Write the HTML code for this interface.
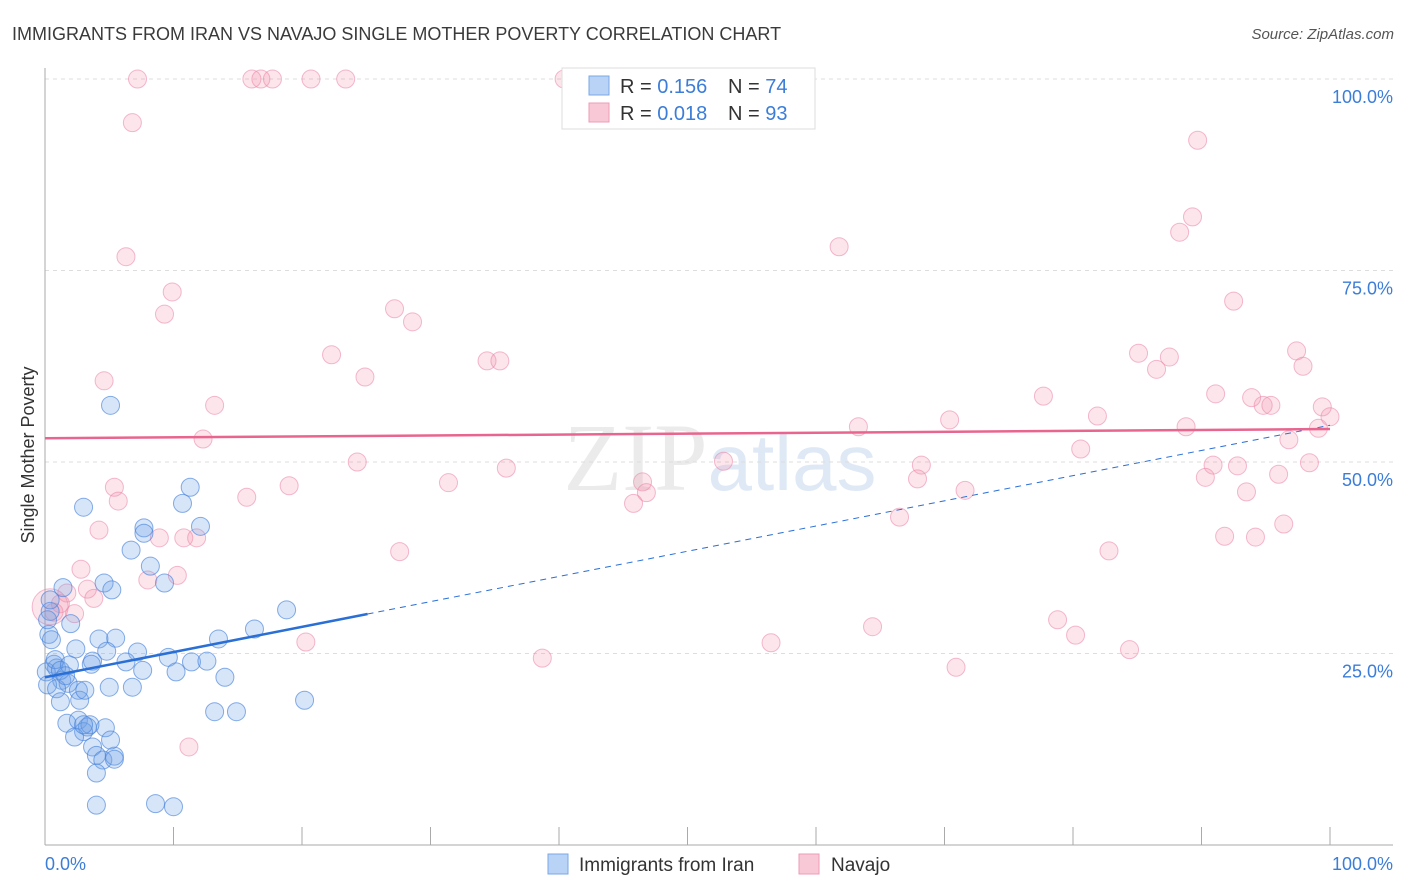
<!DOCTYPE html>
<html><head><meta charset="utf-8"><style>
body{margin:0;background:#fff;font-family:"Liberation Sans",sans-serif;}
#wrap{position:relative;width:1406px;height:892px;overflow:hidden;}
svg text{font-family:"Liberation Sans",sans-serif;}
</style></head><body><div id="wrap">
<svg id="svg" width="1406" height="892">
<text x="12" y="40" font-size="18" fill="#3a3a3a">IMMIGRANTS FROM IRAN VS NAVAJO SINGLE MOTHER POVERTY CORRELATION CHART</text>
<text x="1394" y="39" font-size="15" fill="#555" font-style="italic" text-anchor="end">Source: ZipAtlas.com</text>
<text x="720" y="490" font-size="96" fill="#ebebeb" text-anchor="middle" font-family="Liberation Serif"><tspan font-family="Liberation Serif">ZIP</tspan><tspan fill="#dfe9f6" font-family="Liberation Sans" font-size="80">atlas</tspan></text>
<g id="grid"></g>
<line x1="45" y1="68" x2="45" y2="845" stroke="#aaa"/>
<line x1="45" y1="845" x2="1393" y2="845" stroke="#aaa"/>
<text transform="translate(34,455) rotate(-90)" font-size="18" fill="#333" text-anchor="middle">Single Mother Poverty</text>
<text x="45" y="870" font-size="18" fill="#3b7dd8">0.0%</text>
<text x="1393" y="870" font-size="18" fill="#3b7dd8" text-anchor="end">100.0%</text>
<g id="pts"></g>
<g id="lines"></g>
<g>
<rect x="562" y="68" width="253" height="61" fill="#fff" stroke="#ddd"/>
<rect x="589" y="76" width="20" height="19" fill="#b8d3f5" stroke="#7aa7e6"/>
<rect x="589" y="103" width="20" height="19" fill="#f8c8d6" stroke="#ee9bb4"/>
<text x="620" y="93" font-size="20" fill="#333">R = <tspan fill="#3b7dd8">0.156</tspan></text>
<text x="728" y="93" font-size="20" fill="#333">N = <tspan fill="#3b7dd8">74</tspan></text>
<text x="620" y="120" font-size="20" fill="#333">R = <tspan fill="#3b7dd8">0.018</tspan></text>
<text x="728" y="120" font-size="20" fill="#333">N = <tspan fill="#3b7dd8">93</tspan></text>
</g>
<g>
<rect x="548" y="854" width="20" height="20" fill="#b8d3f5" stroke="#7aa7e6"/>
<text x="579" y="871" font-size="19" fill="#333">Immigrants from Iran</text>
<rect x="799" y="854" width="20" height="20" fill="#f8c8d6" stroke="#ee9bb4"/>
<text x="831" y="871" font-size="19" fill="#333">Navajo</text>
</g>
</svg></div>
<script>
const yTicks=[25,50,75,100];
const yTickLabels=["25.0%","50.0%","75.0%","100.0%"];
const xTicks=[0,10,20,30,40,50,60,70,80,90,100];
const iranX=[5.1,3.0,11.3,10.7,7.7,7.7,12.1,6.7,8.2,9.3,4.6,5.2,1.4,0.4,2.0,0.3,18.8,16.3,13.5,4.2,5.5,7.2,4.8,2.4,9.6,6.3,3.7,3.6,0.7,0.9,0.1,11.4,12.6,10.2,7.6,14.0,1.3,1.8,0.2,0.9,2.6,5.0,6.8,1.2,2.7,20.2,13.2,14.9,1.7,2.6,3.3,4.7,3.0,2.3,3.7,4.0,4.5,5.4,5.4,4.0,4.0,8.6,10.0,0.4,0.5,0.8,1.2,1.9,3.1,3.5,3.0,0.2,1.6,5.1];
const iranY=[57.4,44.1,46.7,44.6,41.4,40.7,41.6,38.5,36.4,34.2,34.2,33.3,33.6,30.5,28.9,27.5,30.7,28.2,26.9,26.9,27.0,25.2,25.3,25.6,24.5,23.9,24.0,23.6,23.6,23.1,22.6,23.9,24.0,22.6,22.8,21.9,21.5,21.1,20.9,20.4,20.2,20.6,20.6,18.7,18.9,18.9,17.4,17.4,15.9,16.3,15.4,15.3,14.8,14.1,12.8,11.7,11.1,11.6,11.2,9.4,5.2,5.4,5.0,32.0,26.8,24.2,22.8,23.5,20.2,15.7,15.7,29.4,22.1,13.7];
const navX=[7.2,16.1,16.8,17.7,20.7,23.4,40.4,6.8,89.7,89.3,88.3,6.3,61.8,9.9,9.3,27.2,28.6,92.5,22.3,34.4,35.4,24.9,85.1,87.5,86.5,97.4,97.9,4.6,13.2,77.7,91.1,93.9,94.8,95.4,99.4,100,70.4,81.9,63.3,88.8,99.1,12.3,96.8,24.3,52.8,80.6,68.2,90.9,92.8,98.4,35.9,5.4,31.4,46.5,19.0,67.9,90.3,96.0,15.7,5.7,46.8,71.6,93.5,45.8,66.5,4.2,8.9,10.8,11.8,91.8,94.2,96.4,27.6,82.8,2.8,10.3,8.0,3.3,1.7,3.8,1.2,2.3,0.7,0.4,78.8,80.2,64.4,20.3,56.5,84.4,38.7,70.9,11.2];
const navY=[100,100,100,100,100,100,100,94.3,92.0,82.0,80.0,76.8,78.1,72.2,69.3,70.0,68.3,71.0,64.0,63.2,63.2,61.1,64.2,63.7,62.1,64.5,62.5,60.6,57.4,58.6,58.9,58.4,57.4,57.4,57.2,55.9,55.5,56.0,54.6,54.6,54.4,53.0,52.9,50.0,50.1,51.7,49.6,49.6,49.5,49.9,49.2,46.7,47.3,47.4,46.9,47.8,48.0,48.4,45.4,44.9,46.0,46.3,46.1,44.6,42.8,41.1,40.1,40.1,40.1,40.3,40.2,41.9,38.3,38.4,36.0,35.2,34.6,33.4,32.9,32.2,31.5,30.2,30.4,31.1,29.4,27.4,28.5,26.5,26.4,25.5,24.4,23.2,12.8];
const iranTrend=[21.9,54.8];
const iranSolidEnd=25.1;
const navTrend=[53.1,54.3];
const NS="http://www.w3.org/2000/svg";
const sx=v=>45+v*12.85, sy=v=>845-v*7.66;
function mk(tag,attrs,parent){const e=document.createElementNS(NS,tag);for(const k in attrs)e.setAttribute(k,attrs[k]);parent.appendChild(e);return e;}
const grid=document.getElementById('grid');
yTicks.forEach((t,i)=>{
 const l=mk('line',{x1:45,x2:1393,y1:sy(t),y2:sy(t),stroke:'#ddd','stroke-dasharray':'4,4'},grid);
 
 
 const tx=mk('text',{x:1393,y:sy(t)+24,'font-size':18,fill:'#3b7dd8','text-anchor':'end'},grid);
 tx.textContent=yTickLabels[i];
 
 
});
xTicks.forEach(t=>{
 const l=mk('line',{x1:sx(t),x2:sx(t),y1:827,y2:845,stroke:'#aaa'},grid);
 
 
});
const pts=document.getElementById('pts');
navX.forEach((x,i)=>{
 const big=(i===83);
 const c=mk('circle',{cx:sx(x),cy:sy(navY[i]),r:big?18:9,fill:'rgba(240,140,170,0.22)',stroke:'rgba(235,130,165,0.55)','stroke-width':1},pts);
 
 
});
iranX.forEach((x,i)=>{
 const c=mk('circle',{cx:sx(x),cy:sy(iranY[i]),r:9,fill:'rgba(110,160,230,0.28)',stroke:'rgba(70,130,220,0.65)','stroke-width':1},pts);
 
 
});
const lines=document.getElementById('lines');
const ib=iranTrend[0], im=(iranTrend[1]-iranTrend[0])/100;
let l1=mk('line',{x1:sx(0),y1:sy(ib),x2:sx(iranSolidEnd),y2:sy(ib+im*iranSolidEnd),stroke:'#2a6fd6','stroke-width':2.5},lines);


let l2=mk('line',{x1:sx(iranSolidEnd),y1:sy(ib+im*iranSolidEnd),x2:sx(100),y2:sy(iranTrend[1]),stroke:'#2a6fd6','stroke-width':1,'stroke-dasharray':'6,5'},lines);


let l3=mk('line',{x1:sx(0),y1:sy(navTrend[0]),x2:sx(100),y2:sy(navTrend[1]),stroke:'#e8658f','stroke-width':2.5},lines);


</script></body></html>
